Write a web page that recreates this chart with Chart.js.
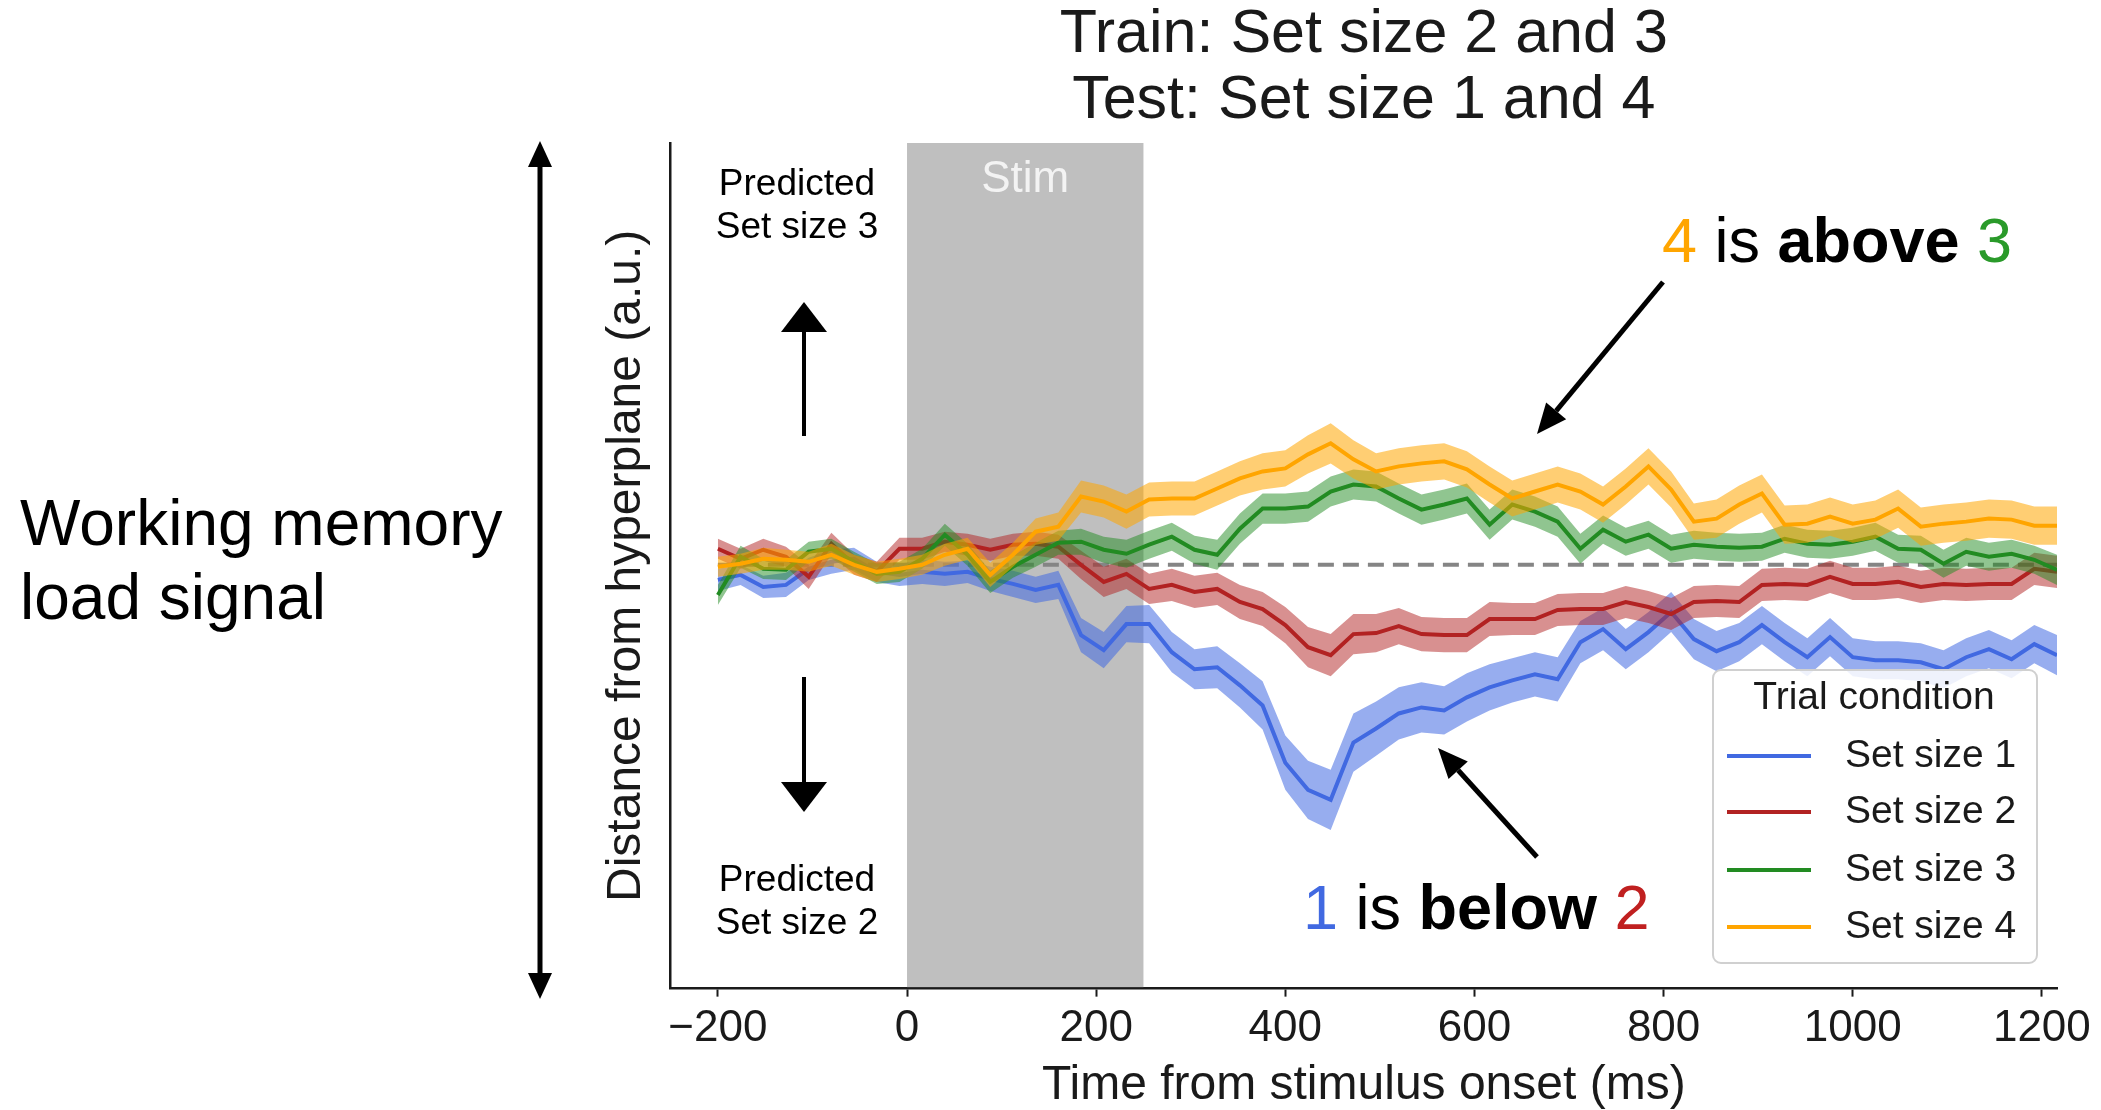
<!DOCTYPE html>
<html>
<head>
<meta charset="utf-8">
<title>Working memory load signal</title>
<script src="https://cdn.jsdelivr.net/npm/chart.js@4.4.0/dist/chart.umd.min.js"></script>
<style>
  html, body { margin: 0; padding: 0; background: #fff; }
  #wrap { width: 2101px; height: 1110px; }
</style>
</head>
<body>
<div id="wrap"><canvas id="loadsignal" width="2101" height="1110"></canvas></div>
<script>
// setup
const times = [-200, -176, -152, -128, -104, -80, -56, -32, -8, 16, 40, 64, 88, 112, 136, 160,
  184, 208, 232, 256, 280, 304, 328, 352, 376, 400, 424, 448, 472, 496, 520, 544, 568, 592,
  616, 640, 664, 688, 712, 736, 760, 784, 808, 832, 856, 880, 904, 928, 952, 976, 1000, 1024,
  1048, 1072, 1096, 1120, 1144, 1168, 1192, 1216];

const xTicks = [-200, 0, 200, 400, 600, 800, 1000, 1200];
const stimWindow = [0, 250];

const labels = ['Set size 1', 'Set size 2', 'Set size 3', 'Set size 4'];

// mean distance from hyperplane (a.u.)
const setSize1 = [-0.15, -0.10, -0.22, -0.20, -0.04, 0.03, 0.06, -0.07, -0.10, -0.07, -0.09, -0.07, -0.14, -0.19, -0.25, -0.20,
  -0.70, -0.85, -0.59, -0.59, -0.87, -1.04, -1.02, -1.20, -1.40, -1.97, -2.24, -2.34, -1.77, -1.63, -1.48,
  -1.42, -1.45, -1.32, -1.22, -1.15, -1.09, -1.14, -0.77, -0.64, -0.84, -0.67, -0.47, -0.74, -0.86, -0.77,
  -0.60, -0.77, -0.92, -0.72, -0.92, -0.95, -0.95, -0.97, -1.04, -0.92, -0.84, -0.94, -0.79, -0.90];
const setSize2 = [0.16, 0.06, 0.15, 0.08, -0.12, 0.21, 0.00, -0.07, 0.16, 0.16, 0.23, 0.20, 0.15, 0.20, 0.21, 0.18,
  0.00, -0.17, -0.09, -0.24, -0.20, -0.27, -0.24, -0.37, -0.44, -0.60, -0.82, -0.90, -0.69, -0.68, -0.61,
  -0.69, -0.70, -0.70, -0.54, -0.54, -0.54, -0.45, -0.44, -0.44, -0.37, -0.42, -0.49, -0.37, -0.36, -0.37,
  -0.20, -0.19, -0.20, -0.12, -0.19, -0.19, -0.17, -0.22, -0.19, -0.20, -0.19, -0.19, -0.04, -0.07];
const setSize3 = [-0.30, 0.08, -0.04, -0.05, 0.13, 0.16, 0.03, -0.09, -0.07, 0.06, 0.30, 0.10, -0.17, -0.02, 0.10, 0.22,
  0.23, 0.15, 0.11, 0.20, 0.28, 0.15, 0.10, 0.36, 0.56, 0.56, 0.58, 0.73, 0.80, 0.78, 0.66,
  0.55, 0.60, 0.66, 0.40, 0.60, 0.53, 0.43, 0.16, 0.35, 0.23, 0.30, 0.16, 0.20, 0.18, 0.17,
  0.18, 0.26, 0.21, 0.20, 0.23, 0.28, 0.16, 0.15, 0.01, 0.13, 0.08, 0.11, 0.05, -0.05];
const setSize4 = [-0.02, 0.01, 0.06, 0.05, 0.03, 0.10, 0.00, -0.07, -0.04, 0.00, 0.10, 0.16, -0.10, 0.10, 0.33, 0.38,
  0.68, 0.63, 0.53, 0.65, 0.66, 0.66, 0.76, 0.86, 0.93, 0.96, 1.10, 1.21, 1.05, 0.93, 0.98,
  1.01, 1.03, 0.95, 0.80, 0.66, 0.73, 0.80, 0.73, 0.60, 0.78, 0.98, 0.75, 0.43, 0.46, 0.60,
  0.71, 0.40, 0.41, 0.48, 0.41, 0.45, 0.56, 0.38, 0.41, 0.43, 0.46, 0.45, 0.39, 0.39];

// standard error (half width of the shaded band)
const sem1 = [0.11, 0.10, 0.11, 0.12, 0.11, 0.12, 0.11, 0.10, 0.11, 0.12, 0.12, 0.11, 0.12, 0.13, 0.13, 0.14,
  0.17, 0.18, 0.18, 0.19, 0.20, 0.20, 0.21, 0.22, 0.24, 0.27, 0.29, 0.30, 0.29, 0.27, 0.26,
  0.25, 0.24, 0.24, 0.23, 0.22, 0.22, 0.22, 0.21, 0.21, 0.20, 0.20, 0.20, 0.20, 0.20, 0.19,
  0.19, 0.19, 0.19, 0.19, 0.19, 0.19, 0.19, 0.19, 0.19, 0.19, 0.19, 0.19, 0.19, 0.20];
const sem2 = [0.10, 0.10, 0.11, 0.10, 0.12, 0.11, 0.10, 0.10, 0.11, 0.11, 0.10, 0.11, 0.11, 0.11, 0.12, 0.12,
  0.14, 0.15, 0.15, 0.15, 0.16, 0.16, 0.16, 0.17, 0.17, 0.18, 0.20, 0.21, 0.20, 0.19, 0.18,
  0.17, 0.17, 0.17, 0.17, 0.16, 0.16, 0.16, 0.16, 0.16, 0.16, 0.16, 0.16, 0.16, 0.16, 0.16,
  0.16, 0.16, 0.16, 0.16, 0.16, 0.16, 0.16, 0.16, 0.16, 0.16, 0.16, 0.16, 0.16, 0.16];
const sem3 = [0.10, 0.11, 0.10, 0.10, 0.10, 0.10, 0.10, 0.10, 0.10, 0.10, 0.11, 0.11, 0.11, 0.11, 0.12, 0.12,
  0.13, 0.13, 0.14, 0.14, 0.14, 0.14, 0.15, 0.15, 0.15, 0.15, 0.15, 0.15, 0.15, 0.15, 0.15,
  0.15, 0.15, 0.15, 0.15, 0.15, 0.15, 0.15, 0.15, 0.14, 0.14, 0.14, 0.14, 0.14, 0.14, 0.14,
  0.14, 0.14, 0.14, 0.14, 0.14, 0.14, 0.14, 0.14, 0.14, 0.14, 0.14, 0.14, 0.14, 0.15];
const sem4 = [0.10, 0.10, 0.11, 0.10, 0.10, 0.11, 0.10, 0.10, 0.10, 0.10, 0.11, 0.11, 0.12, 0.12, 0.13, 0.14,
  0.16, 0.16, 0.17, 0.17, 0.17, 0.17, 0.17, 0.17, 0.18, 0.18, 0.19, 0.20, 0.19, 0.18, 0.18,
  0.18, 0.18, 0.18, 0.18, 0.18, 0.18, 0.18, 0.18, 0.18, 0.18, 0.18, 0.18, 0.18, 0.19, 0.19,
  0.19, 0.19, 0.19, 0.19, 0.19, 0.19, 0.19, 0.19, 0.19, 0.19, 0.19, 0.19, 0.19, 0.19];

const FONT = "'Liberation Sans', Arial, Helvetica, sans-serif";
const INK = '#1a1a1a';
const lineColors = ['#4169e1', '#b22222', '#228b22', '#ffa500'];
const bandColors = ['rgba(65,105,225,0.55)', 'rgba(178,34,34,0.5)', 'rgba(34,139,34,0.5)', 'rgba(255,165,0,0.55)'];

Chart.defaults.font.family = FONT;

// build datasets: lower bound, upper bound filled to lower, then mean line
const series = [setSize1, setSize2, setSize3, setSize4];
const sems = [sem1, sem2, sem3, sem4];
const datasets = [];

series.forEach((vals, k) => {
  const base = 40 - k * 10;
  const sem = sems[k];
  datasets.push({
    label: labels[k] + ' lower',
    data: times.map((t, i) => ({ x: t, y: vals[i] - sem[i] })),
    borderColor: 'rgba(0,0,0,0)', borderWidth: 0, pointRadius: 0, fill: false,
    order: base + 1
  });
  datasets.push({
    label: labels[k] + ' upper',
    data: times.map((t, i) => ({ x: t, y: vals[i] + sem[i] })),
    borderColor: 'rgba(0,0,0,0)', borderWidth: 0, pointRadius: 0,
    fill: '-1', backgroundColor: bandColors[k],
    order: base
  });
  datasets.push({
    label: labels[k],
    data: times.map((t, i) => ({ x: t, y: vals[i] })),
    borderColor: lineColors[k], borderWidth: 4, pointRadius: 0, fill: false,
    order: base - 1
  });
});

// hyperplane (zero line)
datasets.push({
  label: 'hyperplane',
  data: [{ x: times[0], y: 0 }, { x: times[times.length - 1], y: 0 }],
  borderColor: '#858585', borderWidth: 4, borderDash: [16, 9], pointRadius: 0, fill: false,
  order: 100
});

function arrow(ctx, x1, y1, x2, y2, w, headLen, headW) {
  const ang = Math.atan2(y2 - y1, x2 - x1);
  const bx = x2 - Math.cos(ang) * headLen, by = y2 - Math.sin(ang) * headLen;
  ctx.beginPath();
  ctx.lineWidth = w;
  ctx.moveTo(x1, y1);
  ctx.lineTo(bx, by);
  ctx.stroke();
  ctx.beginPath();
  ctx.moveTo(x2, y2);
  ctx.lineTo(bx + Math.sin(ang) * headW / 2, by - Math.cos(ang) * headW / 2);
  ctx.lineTo(bx - Math.sin(ang) * headW / 2, by + Math.cos(ang) * headW / 2);
  ctx.closePath();
  ctx.fill();
}

function runs(ctx, parts, x, y, size) {
  ctx.textAlign = 'left';
  ctx.textBaseline = 'alphabetic';
  parts.forEach(p => {
    ctx.font = (p.bold ? 'bold ' : '') + size + 'px ' + FONT;
    ctx.fillStyle = p.color || '#000';
    ctx.fillText(p.text, x, y);
    x += ctx.measureText(p.text).width;
  });
}

const overlay = {
  id: 'overlay',
  beforeDatasetsDraw(chart) {
    const { ctx, chartArea: a, scales: { x } } = chart;
    const x0 = x.getPixelForValue(stimWindow[0]);
    const x1 = x.getPixelForValue(stimWindow[1]);
    ctx.save();
    ctx.fillStyle = '#bfbfbf';
    ctx.fillRect(x0, a.top, x1 - x0, a.bottom - a.top - 1.5);
    ctx.fillStyle = '#f3f3f3';
    ctx.font = '44px ' + FONT;
    ctx.textAlign = 'center';
    ctx.textBaseline = 'middle';
    ctx.fillText('Stim', (x0 + x1) / 2, a.top + 37);
    ctx.restore();
  },
  afterDraw(chart) {
    const { ctx, chartArea: a } = chart;
    ctx.save();

    // title
    ctx.fillStyle = INK;
    ctx.font = '61px ' + FONT;
    ctx.textAlign = 'center';
    ctx.textBaseline = 'middle';
    const cx = (a.left + a.right) / 2;
    ctx.fillText('Train: Set size 2 and 3', cx, 35);
    ctx.fillText('Test: Set size 1 and 4', cx, 101);

    // legend
    ctx.beginPath();
    ctx.roundRect(1713, 670, 324, 293, 8);
    ctx.fillStyle = 'rgba(255,255,255,0.85)';
    ctx.fill();
    ctx.lineWidth = 2;
    ctx.strokeStyle = '#d0d0d0';
    ctx.stroke();
    ctx.fillStyle = INK;
    ctx.font = '39px ' + FONT;
    ctx.textAlign = 'center';
    ctx.fillText('Trial condition', 1874, 698);
    const rowsY = [756, 812, 870, 927];
    labels.forEach((lab, k) => {
      ctx.strokeStyle = lineColors[k];
      ctx.lineWidth = 4;
      ctx.beginPath();
      ctx.moveTo(1727, rowsY[k]);
      ctx.lineTo(1811, rowsY[k]);
      ctx.stroke();
      ctx.fillStyle = INK;
      ctx.textAlign = 'left';
      ctx.fillText(lab, 1845, rowsY[k]);
    });

    // left side annotation
    ctx.fillStyle = '#000';
    ctx.strokeStyle = '#000';
    ctx.font = '64px ' + FONT;
    ctx.textAlign = 'left';
    ctx.textBaseline = 'alphabetic';
    ctx.fillText('Working memory', 20, 545);
    ctx.fillText('load signal', 20, 619);
    arrow(ctx, 540, 570, 540, 141, 5, 26, 24);
    arrow(ctx, 540, 570, 540, 999, 5, 26, 24);

    ctx.font = '37px ' + FONT;
    ctx.textAlign = 'center';
    ctx.textBaseline = 'middle';
    ctx.fillText('Predicted', 797, 185);
    ctx.fillText('Set size 3', 797, 228);
    ctx.fillText('Predicted', 797, 881);
    ctx.fillText('Set size 2', 797, 924);
    arrow(ctx, 804, 436, 804, 302, 4, 30, 46);
    arrow(ctx, 804, 677, 804, 812, 4, 30, 46);

    // callouts
    runs(ctx, [
      { text: '4', color: lineColors[3] },
      { text: ' is ' },
      { text: 'above', bold: true },
      { text: ' ' },
      { text: '3', color: '#2a9a2a' }
    ], 1662, 262, 63);
    ctx.fillStyle = '#000';
    arrow(ctx, 1663, 282, 1537, 434, 5, 30, 26);

    runs(ctx, [
      { text: '1', color: lineColors[0] },
      { text: ' is ' },
      { text: 'below', bold: true },
      { text: ' ' },
      { text: '2', color: '#c02020' }
    ], 1303, 929, 63);
    ctx.fillStyle = '#000';
    arrow(ctx, 1537, 857, 1438, 748, 5, 30, 26);

    ctx.restore();
  }
};

// config
const config = {
  type: 'line',
  data: { datasets },
  options: {
    responsive: false,
    devicePixelRatio: 1,
    animation: false,
    events: [],
    layout: { padding: { left: 598, top: 143, right: 44, bottom: 0 } },
    elements: { line: { tension: 0 } },
    scales: {
      x: {
        type: 'linear',
        min: -250,
        max: 1216,
        afterBuildTicks: axis => { axis.ticks = xTicks.map(v => ({ value: v })); },
        ticks: {
          font: { size: 44, lineHeight: 1.1 },
          color: INK,
          padding: 8,
          maxRotation: 0,
          autoSkip: false,
          callback: v => (v < 0 ? '\u2212' + Math.abs(v) : String(v))
        },
        grid: { display: true, drawOnChartArea: false, drawTicks: true, tickLength: 8, tickWidth: 2, tickColor: INK },
        border: { display: true, color: INK, width: 2.5 },
        title: {
          display: true,
          text: 'Time from stimulus onset (ms)',
          font: { size: 48, lineHeight: 1.02 },
          color: INK,
          padding: { top: 0, bottom: 0 }
        }
      },
      y: {
        min: -4.22,
        max: 4.20,
        ticks: { display: false },
        grid: { display: false },
        border: { display: true, color: INK, width: 2.5 },
        title: {
          display: true,
          text: 'Distance from hyperplane (a.u.)',
          font: { size: 48, lineHeight: 1.2 },
          color: INK,
          padding: { top: 0, bottom: 7 }
        }
      }
    },
    plugins: {
      legend: { display: false },
      tooltip: { enabled: false }
    }
  },
  plugins: [overlay]
};

// render init block
const loadChart = new Chart(document.getElementById('loadsignal'), config);
</script>
</body>
</html>
